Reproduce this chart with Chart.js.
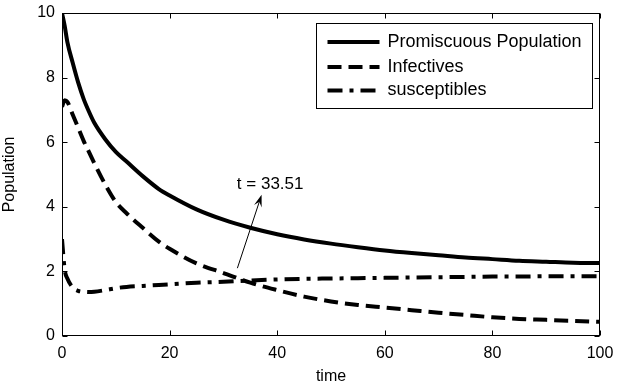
<!DOCTYPE html>
<html>
<head>
<meta charset="utf-8">
<script src="https://cdn.jsdelivr.net/npm/chart.js@4.4.0/dist/chart.umd.min.js"></script>
<style>
  html, body { margin: 0; padding: 0; background: #fff; }
</style>
</head>
<body>
<canvas id="popChart" width="617" height="387"></canvas>
<script>
// values
const timePoints   = [0, 0.5, 1, 2, 3, 4, 5, 6, 8, 10, 12, 15, 18, 20, 25, 30, 35, 40, 45, 50, 55, 60, 65, 70, 75, 80, 85, 90, 95, 100];
const promiscuous  = [10, 9.6, 9.1, 8.45, 7.85, 7.35, 6.95, 6.6, 6.1, 5.7, 5.4, 4.95, 4.55, 4.35, 3.92, 3.6, 3.35, 3.15, 2.99, 2.86, 2.75, 2.65, 2.57, 2.5, 2.43, 2.38, 2.33, 2.3, 2.27, 2.26];
const infectives   = [7.1, 7.3, 7.25, 6.85, 6.45, 6.05, 5.7, 5.35, 4.7, 4.15, 3.8, 3.35, 2.92, 2.7, 2.25, 1.95, 1.65, 1.42, 1.22, 1.07, 0.96, 0.88, 0.8, 0.72, 0.65, 0.58, 0.53, 0.5, 0.47, 0.44];
const susceptibles = [3.0, 2.05, 1.78, 1.5, 1.4, 1.37, 1.36, 1.37, 1.42, 1.48, 1.52, 1.55, 1.58, 1.6, 1.65, 1.68, 1.72, 1.75, 1.77, 1.78, 1.79, 1.8, 1.81, 1.82, 1.83, 1.84, 1.84, 1.85, 1.85, 1.85];
const seriesLabels = ['Promiscuous Population', 'Infectives', 'susceptibles'];
const xTicks = [0, 20, 40, 60, 80, 100];
const yTicks = [0, 2, 4, 6, 8, 10];

// text arrow, in data units
const noteText = 't = 33.51';
const noteTail = { x: 32.6, y: 2.1 };
const noteTip  = { x: 37.1, y: 4.37 };
const noteAt   = { x: 32.5, y: 4.7 };

const FONT = '"Liberation Sans", Arial, sans-serif';

const toPoints = vals => vals.map((v, i) => ({ x: timePoints[i], y: v }));

// inner ticks on all four sides plus the box
const frameTicks = {
    id: 'frameTicks',
    afterDatasetsDraw(chart) {
        const { ctx, chartArea: a, scales: { x, y } } = chart;
        const L = Math.round(a.left) + 0.5, R = Math.round(a.right) - 0.5;
        const T = Math.round(a.top) + 0.5, B = Math.round(a.bottom) - 0.5;
        ctx.save();
        ctx.strokeStyle = '#000';
        ctx.lineWidth = 1;
        ctx.beginPath();
        x.ticks.forEach(t => {
            const px = Math.round(x.getPixelForValue(t.value)) + 0.5;
            ctx.moveTo(px, B); ctx.lineTo(px, B - 5);
            ctx.moveTo(px, T); ctx.lineTo(px, T + 5);
        });
        y.ticks.forEach(t => {
            const py = Math.round(y.getPixelForValue(t.value)) + 0.5;
            ctx.moveTo(L, py); ctx.lineTo(L + 5, py);
            ctx.moveTo(R, py); ctx.lineTo(R - 5, py);
        });
        ctx.stroke();
        ctx.strokeRect(L, T, R - L, B - T);
        ctx.restore();
    }
};

// the "t = 33.51" arrow
const noteArrow = {
    id: 'noteArrow',
    afterDatasetsDraw(chart) {
        const { ctx, scales: { x, y } } = chart;
        const x0 = x.getPixelForValue(noteTail.x), y0 = y.getPixelForValue(noteTail.y);
        const x1 = x.getPixelForValue(noteTip.x), y1 = y.getPixelForValue(noteTip.y);
        const ang = Math.atan2(y1 - y0, x1 - x0);
        const len = 12, half = 4;
        ctx.save();
        ctx.strokeStyle = '#000';
        ctx.fillStyle = '#000';
        ctx.lineWidth = 1;
        ctx.beginPath();
        ctx.moveTo(x0, y0);
        ctx.lineTo(x1 - Math.cos(ang) * len * 0.6, y1 - Math.sin(ang) * len * 0.6);
        ctx.stroke();
        const bx = x1 - Math.cos(ang) * len, by = y1 - Math.sin(ang) * len;
        const nx = -Math.sin(ang), ny = Math.cos(ang);
        ctx.beginPath();
        ctx.moveTo(x1, y1);
        ctx.lineTo(bx + nx * half, by + ny * half);
        ctx.lineTo(x1 - Math.cos(ang) * len * 0.6, y1 - Math.sin(ang) * len * 0.6);
        ctx.lineTo(bx - nx * half, by - ny * half);
        ctx.closePath();
        ctx.fill();
        ctx.font = '17px ' + FONT;
        ctx.textAlign = 'left';
        ctx.textBaseline = 'middle';
        ctx.fillText(noteText, x.getPixelForValue(noteAt.x), y.getPixelForValue(noteAt.y));
        ctx.restore();
    }
};

// boxed legend, top right inside the axes
const boxLegend = {
    id: 'boxLegend',
    afterDraw(chart) {
        const { ctx, chartArea: a } = chart;
        const right = Math.round(a.right) - 7.5, top = Math.round(a.top) + 10.5;
        const left = right - 276, bottom = top + 85;
        ctx.save();
        ctx.fillStyle = '#fff';
        ctx.fillRect(left, top, right - left, bottom - top);
        ctx.strokeStyle = '#000';
        ctx.lineWidth = 1;
        ctx.strokeRect(left, top, right - left, bottom - top);
        ctx.font = '18px ' + FONT;
        ctx.textBaseline = 'middle';
        ctx.textAlign = 'left';
        const rows = [18.5, 43.5, 67];
        chart.data.datasets.forEach((ds, i) => {
            const ry = top + rows[i];
            ctx.beginPath();
            ctx.lineWidth = ds.borderWidth;
            ctx.setLineDash(ds.borderDash || []);
            ctx.strokeStyle = ds.borderColor;
            ctx.moveTo(left + 11, ry);
            ctx.lineTo(left + 63, ry);
            ctx.stroke();
            ctx.setLineDash([]);
            ctx.fillStyle = '#000';
            ctx.fillText(ds.label, left + 71, ry);
        });
        ctx.restore();
    }
};

const lineStyle = {
    borderColor: '#000',
    borderWidth: 4,
    pointRadius: 0,
    fill: false,
    cubicInterpolationMode: 'monotone',
    borderJoinStyle: 'round'
};

new Chart(document.getElementById('popChart'), {
    type: 'line',
    data: {
        datasets: [
            { ...lineStyle, label: seriesLabels[0], data: toPoints(promiscuous) },
            { ...lineStyle, label: seriesLabels[1], data: toPoints(infectives), borderDash: [14, 7] },
            { ...lineStyle, label: seriesLabels[2], data: toPoints(susceptibles), borderDash: [15, 7, 4, 7] }
        ]
    },
    options: {
        responsive: false,
        animation: false,
        devicePixelRatio: 1,
        layout: { padding: { top: 13, right: 17, left: 0, bottom: 0 } },
        plugins: { legend: { display: false }, tooltip: { enabled: false } },
        scales: {
            x: {
                type: 'linear',
                min: 0,
                max: 100,
                afterBuildTicks: s => { s.ticks = xTicks.map(v => ({ value: v })); },
                afterFit: s => { s.height = 51; s.paddingLeft = 0; s.paddingRight = 0; },
                grid: { display: false, drawTicks: false },
                border: { display: false },
                ticks: { color: '#000', font: { family: FONT, size: 16 }, padding: 8, maxRotation: 0 },
                title: { display: true, text: 'time', color: '#000', font: { family: FONT, size: 16 }, padding: { top: 0, bottom: 1 } }
            },
            y: {
                min: 0,
                max: 10,
                afterBuildTicks: s => { s.ticks = yTicks.map(v => ({ value: v })); },
                afterFit: s => { s.width = 62; s.paddingTop = 0; s.paddingBottom = 0; },
                grid: { display: false, drawTicks: false },
                border: { display: false },
                ticks: { color: '#000', font: { family: FONT, size: 16 }, padding: 7 },
                title: { display: true, text: 'Population', color: '#000', font: { family: FONT, size: 16 }, padding: { top: 0, bottom: 0 } }
            }
        }
    },
    plugins: [frameTicks, noteArrow, boxLegend]
});
</script>
</body>
</html>
